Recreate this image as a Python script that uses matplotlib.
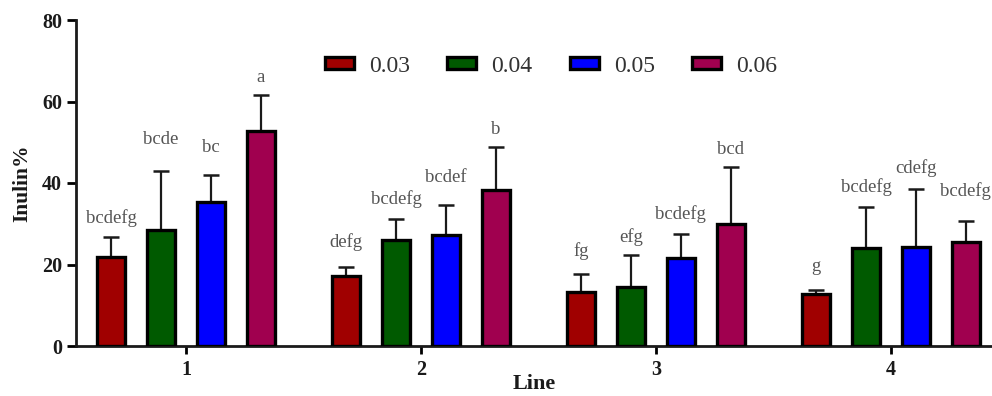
import matplotlib
matplotlib.use("Agg")
import matplotlib.pyplot as plt
import numpy as np

# ---- data ----
lines = ["1", "2", "3", "4"]
series = ["0.03", "0.04", "0.05", "0.06"]
means_003 = [21.9, 17.2, 13.3, 12.8]
sd_003 = [4.8, 2.3, 4.3, 0.9]
means_004 = [28.5, 26.0, 14.4, 24.0]
sd_004 = [14.5, 5.2, 7.9, 10.0]
means_005 = [35.3, 27.2, 21.5, 24.2]
sd_005 = [6.6, 7.4, 6.0, 14.4]
means_006 = [52.7, 38.4, 29.9, 25.6]
sd_006 = [9.0, 10.4, 14.0, 5.1]
letters_003 = ["bcdefg", "defg", "fg", "g"]
letters_004 = ["bcde", "bcdefg", "efg", "bcdefg"]
letters_005 = ["bc", "bcdef", "bcdefg", "cdefg"]
letters_006 = ["a", "b", "bcd", "bcdefg"]
label_y_003 = [31.4, 25.6, 23.4, 19.6]
label_y_004 = [50.6, 36.0, 26.8, 39.1]
label_y_005 = [48.8, 41.4, 32.4, 43.6]
label_y_006 = [66.0, 53.2, 48.3, 37.9]
yticks = [0, 20, 40, 60, 80]

all_means = [means_003, means_004, means_005, means_006]
all_sd = [sd_003, sd_004, sd_005, sd_006]
all_letters = [letters_003, letters_004, letters_005, letters_006]
all_label_y = [label_y_003, label_y_004, label_y_005, label_y_006]
colors = ["#a00000", "#005a00", "#0000ff", "#a0004f"]
offsets = [-0.319, -0.106, 0.106, 0.319]

plt.rcParams["font.family"] = ["Liberation Serif", "DejaVu Serif"]

fig = plt.figure(figsize=(9.92, 3.96), dpi=100)
W, H = 992, 396
ax = fig.add_axes([76 / W, (H - 346) / H, (W - 76) / W, 326 / H])

x = np.arange(len(lines))
handles = []
for i in range(4):
    xs = x + offsets[i]
    b = ax.bar(xs, all_means[i], width=0.122, color=colors[i],
               edgecolor="black", linewidth=2.4, zorder=3, label=series[i])
    handles.append(b)
    ax.errorbar(xs, all_means[i],
                yerr=[np.zeros(len(lines)), all_sd[i]],
                fmt="none", ecolor="#1a1a1a", elinewidth=1.6,
                capsize=5.5, capthick=1.8, zorder=2)
    for xx, yy, t in zip(xs, all_label_y[i], all_letters[i]):
        ax.text(xx, yy, t, ha="center", va="center", fontsize=13.5,
                color="#555555", clip_on=False)

ax.set_xlim(-0.468, 3.430)
ax.set_ylim(0, 80)
ax.set_xticks(x)
ax.set_xticklabels(lines)
ax.set_yticks(yticks)
for lab in ax.get_xticklabels() + ax.get_yticklabels():
    lab.set_fontweight("bold")
    lab.set_color("#1a1a1a")
ax.tick_params(axis="y", length=6.5, width=2, pad=3.5, labelsize=14.5)
ax.tick_params(axis="x", length=6, width=2, pad=4, labelsize=14.5)

for s in ["top", "right"]:
    ax.spines[s].set_visible(False)
for s in ["left", "bottom"]:
    ax.spines[s].set_linewidth(2)
    ax.spines[s].set_color("#1a1a1a")

ax.set_ylabel("Inulin%", fontsize=15.5, fontweight="bold", color="#1a1a1a",
              va="center")
ax.yaxis.set_label_coords(-0.059, 0.5)
ax.set_xlabel("Line", fontsize=16, fontweight="bold", color="#1a1a1a",
              va="center")
ax.xaxis.set_label_coords(0.5, -0.117)

leg = fig.legend(handles=handles, labels=series, loc="center",
                 bbox_to_anchor=(551 / W, 1 - 66 / H), ncol=4, frameon=False,
                 fontsize=17, handlelength=1.23, handleheight=0.42,
                 handletextpad=0.64, columnspacing=1.57, borderpad=0)
for t in leg.get_texts():
    t.set_color("#333333")

fig.savefig("out.png", dpi=100)
